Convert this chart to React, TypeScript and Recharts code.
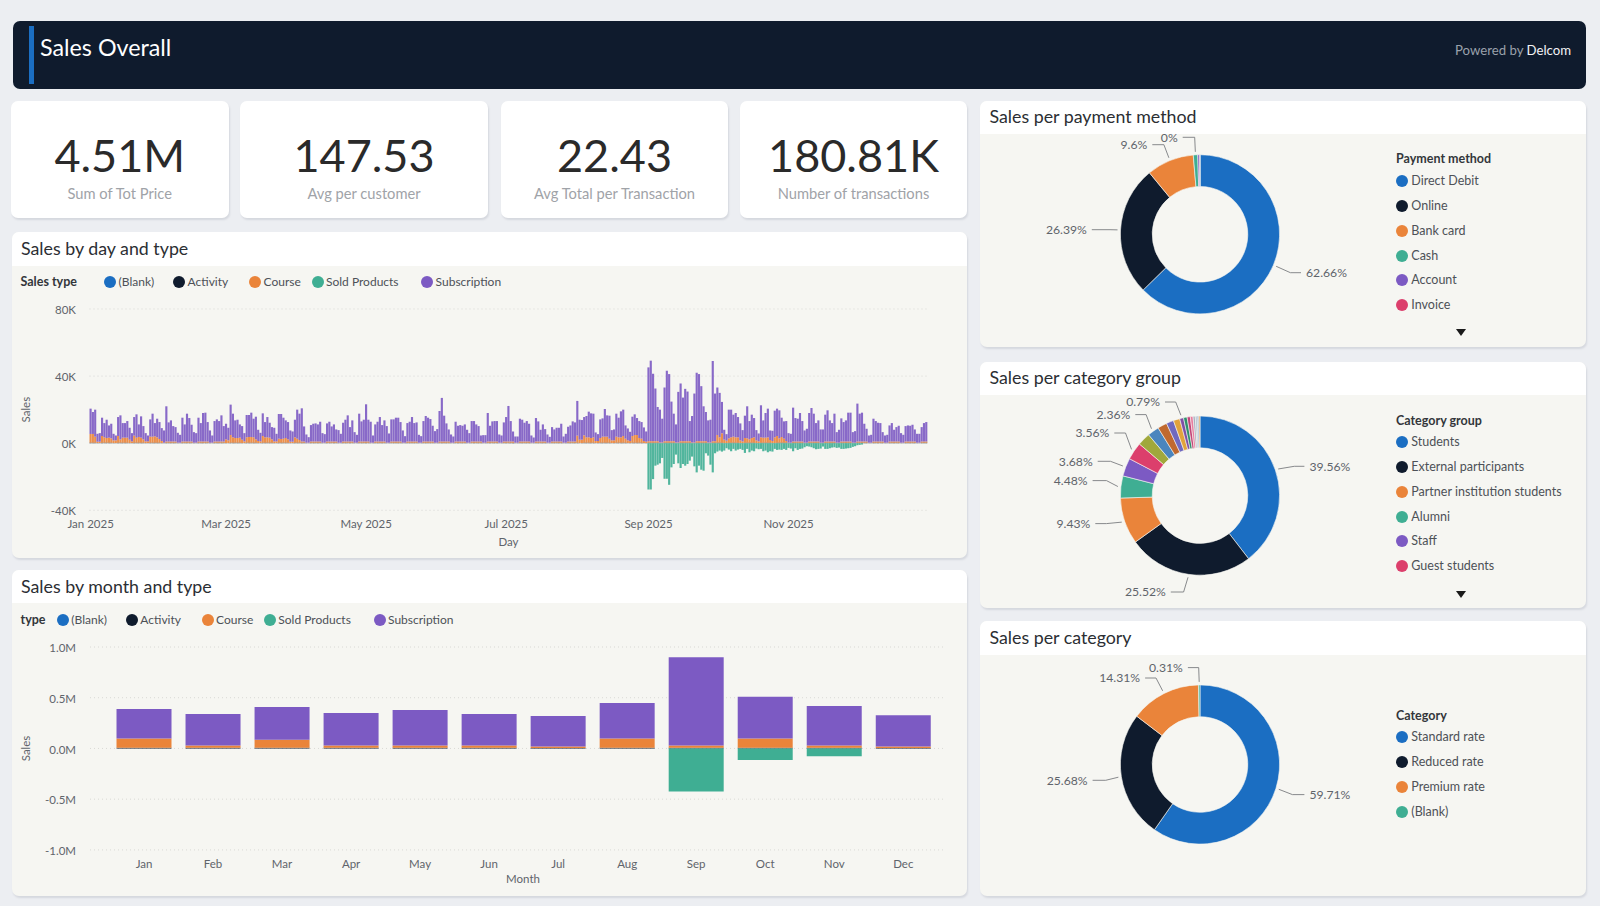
// App.tsx - Sales Overall dashboard
import React from 'react';
import { BarChart, Bar, XAxis, YAxis, CartesianGrid, PieChart, Pie, Cell } from 'recharts';

// Daily values, in thousands, one row per month of 2025
const subscriptionDaily: number[] = [
  15.1, 13.1, 16.1, 4.7, 5.1, 10.9, 8.5, 10.9, 7.3, 8.7, 3.9, 2.9, 11.3, 14.3, 8.7, 8.7, 9.9, 7.1, 4.9, 11.1, 13.9, 7.5, 12.7, 7.9, 4.9, 3.5, 10.3, 13.7, 7.9, 11.1, 10.1,
  7.7, 7.3, 21, 11.4, 12.6, 9.2, 8.6, 5.9, 4.7, 14.2, 10.2, 16.6, 14, 10, 6.3, 5.7, 14.2, 11, 17, 17.2, 11.6, 7.3, 4.3, 12.2, 13.2, 12.2, 15.6, 9.2,
  9.3, 7.5, 18.1, 14.1, 10.5, 10.9, 7.9, 8.1, 4.9, 13.3, 13.1, 14.5, 11.1, 13.5, 6.7, 5.1, 13.5, 9.1, 12.1, 8.9, 7.3, 8.1, 4.5, 14.7, 14.9, 12.5, 10.5, 10.3, 6.7, 6.1, 10.5,
  17.3, 15.7, 19.8, 9, 4.9, 3.3, 9.8, 10.6, 10.8, 10.2, 11.8, 5.7, 5.1, 10.8, 11.8, 9, 10.2, 7.2, 7.5, 5.3, 11.2, 13, 15.6, 8.6, 12.6, 6.3, 4.7, 16.6, 12, 13,
  22.2, 13, 12.5, 4.3, 10.2, 11.8, 14.6, 9.8, 12.6, 9.9, 5.5, 13.2, 13.2, 14.2, 14.2, 11.6, 7.3, 3.9, 11, 11.8, 14.6, 11, 11.4, 4.7, 3.9, 12.2, 15.2, 14.2, 13.4, 9.4, 6.9,
  8.1, 18.2, 26, 15.4, 10.8, 7.2, 4.9, 3.7, 11.8, 9.4, 9.8, 9.4, 10.2, 7.7, 5.7, 12.2, 12.2, 10.2, 9.2, 3.6, 4.5, 4.5, 17, 9.4, 12, 12.2, 12.2, 4.9, 4.3, 11.4,
  14.6, 21.2, 12.2, 6, 3.7, 3.7, 13.6, 13, 11.2, 12.2, 10.6, 4.3, 3.1, 14, 12, 7, 10.2, 7.4, 4.9, 3.5, 8.6, 7.2, 8.2, 8.2, 10.6, 3.7, 5.3, 8.8, 9.6, 12, 11.4,
  20.7, 11.9, 11.7, 10.9, 12.7, 15.3, 14.7, 14.1, 5.1, 4.1, 11.1, 10.9, 16.5, 12.7, 13.7, 6.1, 6.5, 13.7, 11.7, 15.5, 15.7, 7.9, 7.1, 5.5, 11.5, 12.3, 10.1, 10.1, 9.9, 8.1, 6.1,
  44, 48, 40.2, 31.4, 20.4, 19.6, 14.2, 32, 42, 40, 23.6, 16.4, 10.8, 30.2, 34.4, 26, 31.2, 29.6, 12, 15.8, 29.2, 40.8, 40, 32.8, 20.8, 17.4, 13.2, 13.6, 47.8, 28.4,
  28.3, 26.5, 18.7, 5.9, 3.9, 17.1, 16.5, 13.1, 14.5, 12.1, 10.1, 6.7, 13.3, 19.1, 10.9, 13.9, 11.5, 6.1, 4.7, 19.1, 10.3, 14.7, 17.1, 5.7, 6.1, 15.9, 16.3, 16.7, 11.5, 10.3, 11.9,
  5.7, 5.3, 20.2, 14, 13.6, 17, 12.2, 7.3, 8.3, 17, 20, 16.6, 11, 12.6, 7.9, 7.9, 16, 18.6, 12.6, 11, 16.6, 6.3, 7.7, 13.8, 11.6, 12.6, 17.2, 17.2, 6.3, 6.9,
  22.6, 16.6, 17.2, 10.6, 7.6, 4.3, 4.7, 13.6, 12.2, 11.2, 11, 5.6, 4.3, 4.7, 9.6, 11, 7, 8.6, 9.4, 5.7, 4.7, 9.2, 9.6, 9.4, 10, 7.2, 5.3, 5.3, 8.6, 11, 11.6,
];

const courseDaily: number[] = [
  5.2, 5.2, 3.6, 0.8, 0.8, 4, 3.2, 2.8, 3, 2.6, 1.6, 1.6, 4, 2, 3, 3, 3, 2, 1, 4.2, 3, 3.4, 3, 2, 1, 1, 3.6, 3.6, 3.8, 3.2, 2.2,
  1.2, 0.2, 0.7, 0.7, 0.7, 0.7, 0.7, 0.2, 0.2, 0.7, 0.7, 0.7, 0.7, 0.7, 0.2, 0.2, 0.7, 0.7, 0.7, 0.7, 0.7, 0.2, 0.2, 0.7, 0.7, 0.7, 0.7, 0.7,
  2.2, 1.6, 4.6, 3.2, 2.8, 2.8, 3, 2, 1, 3.2, 3.4, 3.4, 3.2, 2, 1.2, 1, 4, 3.2, 3.2, 3, 2, 1, 1, 2.4, 2.2, 2.4, 2.8, 2, 0.8, 0.8, 3.2,
  2.4, 1.6, 0.7, 0.7, 0.2, 0.2, 0.7, 0.7, 0.7, 0.7, 0.7, 0.2, 0.2, 0.7, 0.7, 0.7, 0.7, 0.7, 0.2, 0.2, 0.7, 0.7, 0.7, 0.7, 0.7, 0.2, 0.2, 0.7, 0.7, 0.7,
  0.7, 0.7, 0.2, 0.2, 0.7, 0.7, 0.7, 0.7, 0.7, 0.2, 0.2, 0.7, 0.7, 0.7, 0.7, 0.7, 0.2, 0.2, 0.7, 0.7, 0.7, 0.7, 0.7, 0.2, 0.2, 0.7, 0.7, 0.7, 0.7, 0.7, 0.2,
  0.2, 0.7, 0.7, 0.7, 0.7, 0.7, 0.2, 0.2, 0.7, 0.7, 0.7, 0.7, 0.7, 0.2, 0.2, 0.7, 0.7, 0.7, 0.7, 0.7, 0.2, 0.2, 0.7, 0.7, 0.7, 0.7, 0.7, 0.2, 0.2, 0.7,
  0.7, 0.7, 0.7, 0.7, 0.2, 0.2, 0.7, 0.7, 0.7, 0.7, 0.7, 0.2, 0.2, 0.7, 0.7, 0.7, 0.7, 0.7, 0.2, 0.2, 0.7, 0.7, 0.7, 0.7, 0.7, 0.2, 0.2, 0.7, 0.7, 0.7, 0.7,
  4.2, 2, 2, 4.4, 3.2, 3.2, 2.8, 3.2, 1.2, 1.2, 2.8, 3.6, 3.6, 3.6, 2.4, 1.6, 1.6, 3.6, 3.2, 3.2, 4, 2.4, 1.6, 1.2, 4, 4.6, 4.6, 2.8, 2.4, 1.2, 0.8,
  0.9, 0.9, 0.9, 0.9, 0.9, 0.3, 0.3, 0.9, 0.9, 0.9, 0.9, 0.9, 0.3, 0.3, 0.9, 0.9, 0.9, 0.9, 0.9, 0.3, 0.3, 0.9, 0.9, 0.9, 0.9, 0.9, 0.3, 0.3, 0.9, 0.9,
  4.6, 3.2, 5.6, 2, 1.4, 2.6, 3.2, 3.6, 3.2, 3.2, 1.6, 1, 2.8, 2.6, 2, 2.8, 3.2, 1.6, 1, 3.2, 3, 3, 3.2, 1.6, 1.2, 3.4, 4, 2.6, 3.4, 2.4, 1,
  0.2, 0.2, 0.7, 0.7, 0.7, 0.7, 0.7, 0.2, 0.2, 0.7, 0.7, 0.7, 0.7, 0.7, 0.2, 0.2, 0.7, 0.7, 0.7, 0.7, 0.7, 0.2, 0.2, 0.7, 0.7, 0.7, 0.7, 0.7, 0.2, 0.2,
  0.7, 0.7, 0.7, 0.7, 0.7, 0.2, 0.2, 0.7, 0.7, 0.7, 0.7, 0.7, 0.2, 0.2, 0.7, 0.7, 0.7, 0.7, 0.7, 0.2, 0.2, 0.7, 0.7, 0.7, 0.7, 0.7, 0.2, 0.2, 0.7, 0.7, 0.7,
];

const activityDaily: number[] = [
  0.3, 0.3, 0.3, 0.1, 0.1, 0.3, 0.3, 0.3, 0.3, 0.3, 0.1, 0.1, 0.3, 0.3, 0.3, 0.3, 0.3, 0.1, 0.1, 0.3, 0.3, 0.3, 0.3, 0.3, 0.1, 0.1, 0.3, 0.3, 0.3, 0.3, 0.3,
  0.1, 0.1, 0.3, 0.3, 0.3, 0.3, 0.3, 0.1, 0.1, 0.3, 0.3, 0.3, 0.3, 0.3, 0.1, 0.1, 0.3, 0.3, 0.3, 0.3, 0.3, 0.1, 0.1, 0.3, 0.3, 0.3, 0.3, 0.3,
  0.1, 0.1, 0.3, 0.3, 0.3, 0.3, 0.3, 0.1, 0.1, 0.3, 0.3, 0.3, 0.3, 0.3, 0.1, 0.1, 0.3, 0.3, 0.3, 0.3, 0.3, 0.1, 0.1, 0.3, 0.3, 0.3, 0.3, 0.3, 0.1, 0.1, 0.3,
  0.3, 0.3, 0.3, 0.3, 0.1, 0.1, 0.3, 0.3, 0.3, 0.3, 0.3, 0.1, 0.1, 0.3, 0.3, 0.3, 0.3, 0.3, 0.1, 0.1, 0.3, 0.3, 0.3, 0.3, 0.3, 0.1, 0.1, 0.3, 0.3, 0.3,
  0.3, 0.3, 0.1, 0.1, 0.3, 0.3, 0.3, 0.3, 0.3, 0.1, 0.1, 0.3, 0.3, 0.3, 0.3, 0.3, 0.1, 0.1, 0.3, 0.3, 0.3, 0.3, 0.3, 0.1, 0.1, 0.3, 0.3, 0.3, 0.3, 0.3, 0.1,
  0.1, 0.3, 0.3, 0.3, 0.3, 0.3, 0.1, 0.1, 0.3, 0.3, 0.3, 0.3, 0.3, 0.1, 0.1, 0.3, 0.3, 0.3, 0.3, 0.3, 0.1, 0.1, 0.3, 0.3, 0.3, 0.3, 0.3, 0.1, 0.1, 0.3,
  0.3, 0.3, 0.3, 0.3, 0.1, 0.1, 0.3, 0.3, 0.3, 0.3, 0.3, 0.1, 0.1, 0.3, 0.3, 0.3, 0.3, 0.3, 0.1, 0.1, 0.3, 0.3, 0.3, 0.3, 0.3, 0.1, 0.1, 0.3, 0.3, 0.3, 0.3,
  0.3, 0.1, 0.1, 0.3, 0.3, 0.3, 0.3, 0.3, 0.1, 0.1, 0.3, 0.3, 0.3, 0.3, 0.3, 0.1, 0.1, 0.3, 0.3, 0.3, 0.3, 0.3, 0.1, 0.1, 0.3, 0.3, 0.3, 0.3, 0.3, 0.1, 0.1,
  0.3, 0.3, 0.3, 0.3, 0.3, 0.1, 0.1, 0.3, 0.3, 0.3, 0.3, 0.3, 0.1, 0.1, 0.3, 0.3, 0.3, 0.3, 0.3, 0.1, 0.1, 0.3, 0.3, 0.3, 0.3, 0.3, 0.1, 0.1, 0.3, 0.3,
  0.3, 0.3, 0.3, 0.1, 0.1, 0.3, 0.3, 0.3, 0.3, 0.3, 0.1, 0.1, 0.3, 0.3, 0.3, 0.3, 0.3, 0.1, 0.1, 0.3, 0.3, 0.3, 0.3, 0.3, 0.1, 0.1, 0.3, 0.3, 0.3, 0.3, 0.3,
  0.1, 0.1, 0.3, 0.3, 0.3, 0.3, 0.3, 0.1, 0.1, 0.3, 0.3, 0.3, 0.3, 0.3, 0.1, 0.1, 0.3, 0.3, 0.3, 0.3, 0.3, 0.1, 0.1, 0.3, 0.3, 0.3, 0.3, 0.3, 0.1, 0.1,
  0.3, 0.3, 0.3, 0.3, 0.3, 0.1, 0.1, 0.3, 0.3, 0.3, 0.3, 0.3, 0.1, 0.1, 0.3, 0.3, 0.3, 0.3, 0.3, 0.1, 0.1, 0.3, 0.3, 0.3, 0.3, 0.3, 0.1, 0.1, 0.3, 0.3, 0.3,
];

// Sold Products only starts on 1 Sep (day 243) and runs out early December
const soldFirstDay = 243;
const soldDaily: number[] = [
  -27.6, -27.6, -21.4, -13.4, -12.8, -12, -8.8, -21.2, -21.2, -24.8, -14.4, -12.4, -6.8, -12, -14.8, -12.4, -13.4, -12.4, -10.4, -8, -13.8, -17.4, -13.4, -15.8, -16.4, -6, -7.4, -12.8, -17.4, -6,
  -5, -4.4, -5, -4.4, -3, -3.8, -4.8, -3.4, -4.4, -3.8, -3.4, -4, -5.8, -3.4, -5.4, -4.4, -4.8, -3.2, -3.6, -3.4, -4.8, -4.4, -5.4, -4.8, -5, -3.4, -4, -3.8, -4, -3.4, -4,
  -2.8, -3.2, -4.8, -3, -4, -3.4, -3.2, -2.4, -1.8, -2, -2.4, -3, -3.6, -3.4, -3.2, -2, -3.4, -3.4, -3, -2.6, -2.4, -2.8, -2.6, -3.4, -3.4, -3.2, -3, -2.8, -2.2, -1.8,
  -1.2, -1, -0.8,
];

const dayTicks = ['2025-01-01', '2025-03-01', '2025-05-01', '2025-07-01', '2025-09-01', '2025-11-01'];
const dayTickLabels = ['Jan 2025', 'Mar 2025', 'May 2025', 'Jul 2025', 'Sep 2025', 'Nov 2025'];
const dayAxisTicks = [-40, 0, 40, 80];

// Monthly values, in millions
const months = ['Jan', 'Feb', 'Mar', 'Apr', 'May', 'Jun', 'Jul', 'Aug', 'Sep', 'Oct', 'Nov', 'Dec'];
const monthActivity = [0.008, 0.006, 0.007, 0.006, 0.006, 0.006, 0.005, 0.008, 0.006, 0.008, 0.006, 0.005];
const monthCourse = [0.091, 0.024, 0.079, 0.024, 0.024, 0.024, 0.015, 0.091, 0.024, 0.091, 0.024, 0.015];
const monthSubscription = [0.29, 0.309, 0.322, 0.319, 0.349, 0.309, 0.299, 0.349, 0.869, 0.411, 0.388, 0.306];
const monthSold = [0, 0, 0, 0, 0, 0, 0, 0, -0.425, -0.115, -0.076, 0];
const monthAxisTicks = [-1, -0.5, 0, 0.5, 1];

const salesTypes = ['(Blank)', 'Activity', 'Course', 'Sold Products', 'Subscription'];

const paymentNames = ['Direct Debit', 'Online', 'Bank card', 'Cash', 'Account', 'Invoice'];
const paymentValues = [62.66, 26.39, 9.6, 0.9, 0.42, 0.03];
const paymentLabels = ['62.66%', '26.39%', '9.6%', '0%'];

const groupNames = ['Students', 'External participants', 'Partner institution students', 'Alumni', 'Staff', 'Guest students'];
const groupValues = [39.56, 25.52, 9.43, 4.48, 3.68, 3.56, 2.6, 2.36, 1.9, 1.5, 1.3, 0.79, 0.72, 0.65, 0.55, 0.45, 0.4, 0.3, 0.25];
const groupLabels: Record<number, string> = { 0: '39.56%', 1: '25.52%', 2: '9.43%', 3: '4.48%', 4: '3.68%', 5: '3.56%', 7: '2.36%', 11: '0.79%' };

const categoryNames = ['Standard rate', 'Reduced rate', 'Premium rate', '(Blank)'];
const categoryValues = [59.71, 25.68, 14.31, 0.31];
const categoryLabels = ['59.71%', '25.68%', '14.31%', '0.31%'];

const kpis = [
  { value: '4.51M', label: 'Sum of Tot Price', left: 11, width: 217.5 },
  { value: '147.53', label: 'Avg per customer', left: 240, width: 248 },
  { value: '22.43', label: 'Avg Total per Transaction', left: 501, width: 227 },
  { value: '180.81K', label: 'Number of transactions', left: 740, width: 227 },
];

const BLUE = '#1b6ec2';
const DARK = '#0f1b2d';
const ORANGE = '#ea843a';
const GREEN = '#3fae93';
const PURPLE = '#7c5ac3';
const CRIMSON = '#dc3f6c';
const typeColors = [BLUE, DARK, ORANGE, GREEN, PURPLE];
const groupColors = [BLUE, DARK, ORANGE, GREEN, PURPLE, CRIMSON, '#a0a83c', '#4a85be', '#c0692f', '#7069bf', '#e2a33c', '#7f4fa6', '#2e8f6c', '#c2457a', '#e87ca0', '#a9aec0', '#b8c6d4', '#6e9bcf', '#e59a4a'];

const FONT = 'Lato, sans-serif';
const AXIS_TEXT = '#5f646b';
const PANEL_BG = '#f6f6f2';

// Callout placement around each donut, relative to its centre
type Callout = { textX: number; y: number; elbowX: number };
const paymentCallouts: Record<number, Callout> = {
  0: { textX: 106, y: 38.4, elbowX: 90.4 },
  1: { textX: -113.2, y: -4.6, elbowX: -90 },
  2: { textX: -52.7, y: -89.6, elbowX: -36.1 },
  3: { textX: -22.3, y: -97, elbowX: -5.3 },
};
const groupCallouts: Record<number, Callout> = {
  0: { textX: 109.4, y: -29.3, elbowX: 94.3 },
  1: { textX: -34.2, y: 96.4, elbowX: -16.4 },
  2: { textX: -109.7, y: 28, elbowX: -93.5 },
  3: { textX: -112.4, y: -15, elbowX: -93.5 },
  4: { textX: -107.3, y: -34.3, elbowX: -89.5 },
  5: { textX: -90.7, y: -62.6, elbowX: -74.5 },
  7: { textX: -69.7, y: -81, elbowX: -53.9 },
  11: { textX: -40, y: -93.6, elbowX: -24.3 },
};
const categoryCallouts: Record<number, Callout> = {
  0: { textX: 109.4, y: 30.1, elbowX: 92.4 },
  1: { textX: -112.4, y: 15.8, elbowX: -94.3 },
  2: { textX: -59.9, y: -86.5, elbowX: -44 },
  3: { textX: -17.1, y: -96.9, elbowX: -1.3 },
};

const dailyRows = subscriptionDaily.map((subscription, i) => ({
  day: new Date(Date.UTC(2025, 0, i + 1)).toISOString().slice(0, 10),
  activity: activityDaily[i],
  course: courseDaily[i],
  sold: soldDaily[i - soldFirstDay] ?? 0,
  subscription,
}));

const monthRows = months.map((month, i) => ({
  month,
  activity: monthActivity[i],
  course: monthCourse[i],
  sold: monthSold[i],
  subscription: monthSubscription[i],
}));

const axisTick = { fontSize: 11.5, fill: AXIS_TEXT, fontFamily: FONT };
const yAxisTick = { ...axisTick, dy: 1 };
const axisTitle = { fontSize: 11.5, fill: AXIS_TEXT, fontFamily: FONT, textAnchor: 'middle' as const };

const abs = (left: number, top: number, width?: number, height?: number): React.CSSProperties => ({
  position: 'absolute', left, top, width, height,
});

const Panel = ({ left, top, width, height, band, title }: { left: number; top: number; width: number; height: number; band: number; title: string }) => (
  <div style={{ ...abs(left, top, width, height), background: PANEL_BG, borderRadius: 7, boxShadow: '1px 2px 2px rgba(60,70,90,0.13)', overflow: 'hidden' }}>
    <div style={{ height: band, background: '#fff', color: '#2b2e33', fontSize: 17.8, lineHeight: `${band - 1.5}px`, paddingLeft: 9.5, whiteSpace: 'nowrap' }}>{title}</div>
  </div>
);

const Dot = ({ x, y, color }: { x: number; y: number; color: string }) => (
  <div style={{ ...abs(x - 6, y - 6, 12, 12), borderRadius: '50%', background: color }} />
);

const LegendText = ({ x, y, text, bold, size = 12 }: { x: number; y: number; text: string; bold?: boolean; size?: number }) => (
  <div style={{ ...abs(x, y - 9, undefined, 18), lineHeight: '18px', fontSize: bold ? 12.5 : size, color: bold ? '#33363b' : '#4d5157', fontWeight: bold ? 700 : 400, whiteSpace: 'nowrap' }}>{text}</div>
);

const TypeLegend = ({ y, title, dots }: { y: number; title: string; dots: number[] }) => (
  <>
    <LegendText x={20.5} y={y} text={title} bold />
    {salesTypes.map((name, i) => (
      <React.Fragment key={name}>
        <Dot x={dots[i]} y={y} color={typeColors[i]} />
        <LegendText x={dots[i] + 8.3} y={y} text={name} />
      </React.Fragment>
    ))}
  </>
);

const SideLegend = ({ title, names, titleY, rowYs, arrowY }: { title: string; names: string[]; titleY: number; rowYs: number[]; arrowY?: number }) => (
  <>
    <LegendText x={1396} y={titleY} text={title} bold />
    {names.map((name, i) => (
      <React.Fragment key={name}>
        <Dot x={1402.3} y={rowYs[i]} color={typeColors.concat(CRIMSON)[i]} />
        <LegendText x={1411.3} y={rowYs[i]} text={name} size={12.5} />
      </React.Fragment>
    ))}
    {arrowY !== undefined && (
      <div style={{ ...abs(1455.5, arrowY - 3.5, 0, 0), borderLeft: '5.5px solid transparent', borderRight: '5.5px solid transparent', borderTop: '7px solid #1a1a1a' }} />
    )}
  </>
);

// Label renderer shared by the three donuts: leader line plus percentage text
const callout = (labels: Record<number, string>, spots: Record<number, Callout>) => (p: any) => {
  const spot = spots[p.index];
  if (!spot) return null;
  const rad = (-p.midAngle * Math.PI) / 180;
  const startX = p.cx + (p.outerRadius + 3) * Math.cos(rad);
  const startY = p.cy + (p.outerRadius + 3) * Math.sin(rad);
  const right = spot.textX > 0;
  const endX = p.cx + spot.textX + (right ? -5 : 5);
  const y = p.cy + spot.y;
  return (
    <g key={p.index}>
      <polyline points={`${startX},${startY} ${p.cx + spot.elbowX},${y} ${endX},${y}`} fill="none" stroke="#7a7d80" strokeWidth={0.9} />
      <text x={p.cx + spot.textX} y={y} dy="0.35em" textAnchor={right ? 'start' : 'end'} fontSize={12.2} fontFamily={FONT} fill={AXIS_TEXT}>{labels[p.index]}</text>
    </g>
  );
};

const Donut = ({ top, height, cy, values, colors, labels, spots }: { top: number; height: number; cy: number; values: number[]; colors: string[]; labels: Record<number, string>; spots: Record<number, Callout> }) => (
  <div style={abs(980, top)}>
    <PieChart width={400} height={height} margin={{ top: 0, right: 0, bottom: 0, left: 0 }}>
      <Pie
        data={values.map((value, i) => ({ name: String(i), value }))}
        dataKey="value"
        cx={220}
        cy={cy}
        innerRadius={47.8}
        outerRadius={79.6}
        startAngle={90}
        endAngle={-270}
        stroke={PANEL_BG}
        strokeWidth={0.6}
        label={callout(labels, spots)}
        labelLine={false}
        isAnimationActive={false}
      >
        {values.map((_, i) => <Cell key={i} fill={colors[i]} />)}
      </Pie>
    </PieChart>
  </div>
);

const App: React.FC = () => {
  return (
    <div style={{ position: 'fixed', left: 0, top: 0, width: 1600, height: 906, background: '#eceef2', fontFamily: FONT, overflow: 'hidden' }}>
      {/* header */}
      <div style={{ ...abs(12.5, 20.5, 1573, 68.5), background: DARK, borderRadius: 7 }}>
        <div style={{ ...abs(16.5, 5, 5, 58.5), background: BLUE }} />
        <div style={{ ...abs(27.5, 8, undefined, 36), color: '#fff', fontSize: 23.3, lineHeight: '36px' }}>Sales Overall</div>
        <div style={{ position: 'absolute', right: 14.5, top: 20, fontSize: 13.2, lineHeight: '18px', color: '#9aa1ab' }}>
          Powered by <span style={{ color: '#f2f3f5' }}>Delcom</span>
        </div>
      </div>

      {/* kpi cards */}
      {kpis.map((k) => (
        <div key={k.label} style={{ ...abs(k.left, 101, k.width, 116.5), background: '#fff', borderRadius: 7, boxShadow: '1px 2px 2px rgba(60,70,90,0.13)', textAlign: 'center' }}>
          <div style={{ marginTop: 24, height: 60, lineHeight: '60px', fontSize: 45, color: '#2a2a2a', fontWeight: 400 }}>{k.value}</div>
          <div style={{ marginTop: -2, lineHeight: '20px', fontSize: 14.7, color: '#9fa3a8' }}>{k.label}</div>
        </div>
      ))}

      {/* sales by day */}
      <Panel left={11.5} top={232} width={955.5} height={326} band={33.7} title="Sales by day and type" />
      <TypeLegend y={281.7} title="Sales type" dots={[110.3, 179.3, 255.3, 317.7, 427.3]} />
      <div style={abs(0, 265.7)}>
        <BarChart width={967} height={292.3} data={dailyRows} stackOffset="sign" barSize={2.15} margin={{ top: 43, right: 39.5, bottom: 0, left: 0 }}>
          <CartesianGrid horizontal vertical={false} stroke="#d9d9d5" strokeDasharray="1 3" />
          <XAxis
            dataKey="day"
            ticks={dayTicks}
            interval={0}
            height={48}
            axisLine={false}
            tickLine={false}
            tickMargin={4}
            tick={axisTick}
            tickFormatter={(d: string) => dayTickLabels[dayTicks.indexOf(d)]}
            label={{ value: 'Day', position: 'insideBottom', offset: 12, style: axisTitle }}
          />
          <YAxis
            domain={[-40, 80]}
            ticks={dayAxisTicks}
            width={89.5}
            axisLine={false}
            tickLine={false}
            tickMargin={7.5}
            tick={yAxisTick}
            tickFormatter={(v: number) => `${v}K`}
            label={{ value: 'Sales', angle: -90, position: 'insideLeft', offset: 26, style: axisTitle }}
          />
          <Bar dataKey="activity" stackId="s" fill={DARK} isAnimationActive={false} />
          <Bar dataKey="course" stackId="s" fill={ORANGE} fillOpacity={0.9} isAnimationActive={false} />
          <Bar dataKey="sold" stackId="s" fill={GREEN} fillOpacity={0.9} isAnimationActive={false} />
          <Bar dataKey="subscription" stackId="s" fill={PURPLE} fillOpacity={0.9} isAnimationActive={false} />
        </BarChart>
      </div>

      {/* sales by month */}
      <Panel left={11.5} top={569.7} width={955.5} height={326.5} band={33.6} title="Sales by month and type" />
      <TypeLegend y={620} title="type" dots={[63, 132, 207.7, 270, 379.7]} />
      <div style={abs(0, 603.3)}>
        <BarChart width={967} height={292.9} data={monthRows} stackOffset="sign" barSize={55} margin={{ top: 44, right: 23, bottom: 0, left: 0 }}>
          <CartesianGrid horizontal vertical={false} stroke="#d9d9d5" strokeDasharray="1 3" />
          <XAxis
            dataKey="month"
            height={46}
            padding={{ left: 19.5, right: 6.2 }}
            axisLine={false}
            tickLine={false}
            tickMargin={4}
            tick={axisTick}
            interval={0}
            label={{ value: 'Month', position: 'insideBottom', offset: 13, dx: 6, style: axisTitle }}
          />
          <YAxis
            domain={[-1, 1]}
            ticks={monthAxisTicks}
            width={90}
            axisLine={false}
            tickLine={false}
            tickMargin={8}
            tick={yAxisTick}
            tickFormatter={(v: number) => `${v.toFixed(1)}M`}
            label={{ value: 'Sales', angle: -90, position: 'insideLeft', offset: 26, style: axisTitle }}
          />
          <Bar dataKey="activity" stackId="s" fill={DARK} isAnimationActive={false} />
          <Bar dataKey="course" stackId="s" fill={ORANGE} isAnimationActive={false} />
          <Bar dataKey="sold" stackId="s" fill={GREEN} isAnimationActive={false} />
          <Bar dataKey="subscription" stackId="s" fill={PURPLE} isAnimationActive={false} />
        </BarChart>
      </div>

      {/* donuts */}
      <Panel left={980} top={101} width={606} height={246} band={33} title="Sales per payment method" />
      <Donut top={101} height={246} cy={133.3} values={paymentValues} colors={[BLUE, DARK, ORANGE, GREEN, PURPLE, CRIMSON]} labels={paymentLabels} spots={paymentCallouts} />
      <SideLegend title="Payment method" names={paymentNames} titleY={159} rowYs={[181.3, 206, 231, 255.7, 280.3, 305.3]} arrowY={332.7} />

      <Panel left={980} top={361.7} width={606} height={246} band={33.3} title="Sales per category group" />
      <Donut top={361.7} height={246} cy={133.6} values={groupValues} colors={groupColors} labels={groupLabels} spots={groupCallouts} />
      <SideLegend title="Category group" names={groupNames} titleY={420.7} rowYs={[442.3, 467, 492, 516.7, 541.3, 566.3]} arrowY={594} />

      <Panel left={980} top={620.7} width={606} height={275.5} band={34} title="Sales per category" />
      <Donut top={620.7} height={275} cy={143.5} values={categoryValues} colors={[BLUE, DARK, ORANGE, GREEN]} labels={categoryLabels} spots={categoryCallouts} />
      <SideLegend title="Category" names={categoryNames} titleY={716} rowYs={[737.3, 762.3, 787.3, 812]} />
    </div>
  );
};

export default App;
